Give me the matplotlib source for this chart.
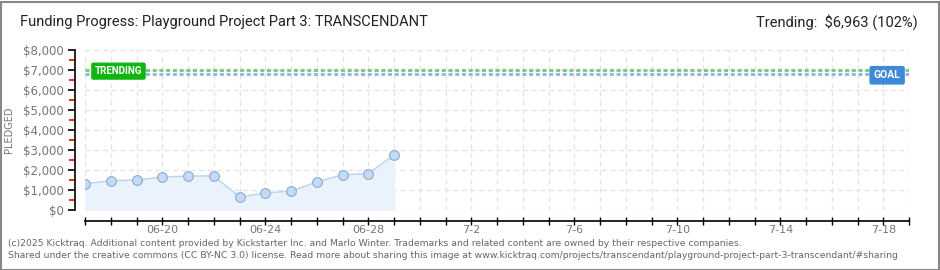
import matplotlib
matplotlib.use('Agg')
import matplotlib.pyplot as plt
import numpy as np
from matplotlib.patches import Rectangle

# data
dates = np.arange(np.datetime64('2025-06-17'), np.datetime64('2025-06-30'))
pledged = [1315, 1465, 1500, 1650, 1700, 1700, 650, 850, 950, 1400, 1765, 1815, 2750]
goal = 6826
trending = 6963
x_start = np.datetime64('2025-06-17')
x_end = np.datetime64('2025-07-19')
tick_dates = [np.datetime64('2025-06-20') + np.timedelta64(4 * i, 'D') for i in range(8)]
tick_labels = ['06-20', '06-24', '06-28', '7-2', '7-6', '7-10', '7-14', '7-18']
y_ticks = [0, 1000, 2000, 3000, 4000, 5000, 6000, 7000, 8000]

narrow = ['Roboto', 'DejaVu Sans']

W, H = 940, 270
fig = plt.figure(figsize=(W / 100, H / 100), dpi=100)
fig.patch.set_facecolor('white')
fig.add_artist(Rectangle((0.5 / W, 0.5 / H), 1 - 2 / W, 1 - 2 / H, transform=fig.transFigure,
                         fill=False, edgecolor='#888888', linewidth=1.5))

ax = fig.add_axes([85 / W, 60 / H, 824 / W, 160 / H])
xd = dates.astype('datetime64[D]').astype(float)
x0 = float(x_start.astype('datetime64[D]').astype(float))
x1 = float(x_end.astype('datetime64[D]').astype(float))
ax.set_xlim(x0, x1)
ax.set_ylim(0, 8000)

# grid
for d in np.arange(x0, x1 + 1):
    ax.axvline(d, color='#e3e3e3', lw=0.9, ls=(0, (4, 3)), zorder=0)
for v in y_ticks:
    ax.axhline(v, color='#e3e3e3', lw=0.9, ls=(0, (4, 3)), zorder=0)

# goal / trending lines
ax.axhline(trending + 40, color='#7ccc7c', lw=2.2, ls=(0, (1.3, 0.9)), zorder=2)
ax.axhline(goal - 40, color='#94b8e6', lw=2.2, ls=(0, (1.3, 0.9)), zorder=2)

# pledged series
ax.fill_between(xd, pledged, 0, color='#eaf2fc', zorder=1)
ax.plot(xd, pledged, color='#b8d4f2', lw=1, zorder=3)
ax.plot(xd, pledged, 'o', ms=7, mfc='#c2dbf6', mec='#8fa9c8', mew=0.8, zorder=4)

# labels on the lines
ax.text(x0 + 1.3, trending - 20, 'TRENDING', color='white', fontsize=7, family=narrow,
        fontweight='bold', ha='center', va='center', zorder=6,
        bbox=dict(boxstyle='round,pad=0.3,rounding_size=0.15', fc='#11b511', ec='#11b511'))
ax.text(x1 - 0.85, goal - 90, 'GOAL', color='white', fontsize=7.5, family=narrow,
        fontweight='bold', ha='center', va='center', zorder=6,
        bbox=dict(boxstyle='round,pad=0.35,rounding_size=0.15', fc='#3f8ad6', ec='#3f8ad6'))

# axes styling
for s in ['top', 'right']:
    ax.spines[s].set_visible(False)
ax.spines['left'].set_position(('outward', 7))
ax.spines['bottom'].set_position(('outward', 8))
ax.spines['left'].set_linewidth(1.2)
ax.spines['bottom'].set_linewidth(1.2)
ax.set_yticks(y_ticks)
ax.set_yticklabels(['$0' if v == 0 else '${:,}'.format(v) for v in y_ticks])
ax.set_yticks(np.arange(500, 8000, 1000), minor=True)
ax.tick_params(axis='y', which='major', length=5, width=1.2, colors='black', labelcolor='#777777',
               labelsize=8.5, pad=3)
ax.tick_params(axis='y', which='minor', length=4, width=1.2, color='#dd0000')
ax.set_xticks(np.arange(x0, x1 + 1), minor=True)
ax.set_xticks([float(t.astype(float)) for t in tick_dates])
ax.set_xticklabels(tick_labels)
ax.tick_params(axis='x', which='both', direction='inout', length=6, width=1, colors='black')
ax.tick_params(axis='x', which='major', labelcolor='#777777', labelsize=8, pad=0)
ax.set_ylabel('PLEDGED', color='#777777', fontsize=7)
ax.yaxis.set_label_coords(-71 / 824, 0.5)

# header / footer
fig.text(20 / W, 1 - 22 / H, 'Funding Progress: Playground Project Part 3: TRANSCENDANT',
         fontsize=10.5, color='#222222', va='center', ha='left', family=narrow)
fig.text(918 / W, 1 - 22 / H, 'Trending:  $6,963 (102%)', fontsize=10.5, color='#222222',
         va='center', ha='right', family=narrow)
fig.text(8 / W, 1 - 243 / H,
         '(c)2025 Kicktraq. Additional content provided by Kickstarter Inc. and Marlo Winter. '
         'Trademarks and related content are owned by their respective companies.',
         fontsize=6.7, color='#666666', va='center', ha='left')
fig.text(8 / W, 1 - 256 / H,
         'Shared under the creative commons (CC BY-NC 3.0) license. Read more about sharing this image at '
         'www.kicktraq.com/projects/transcendant/playground-project-part-3-transcendant/#sharing',
         fontsize=6.7, color='#666666', va='center', ha='left')

fig.savefig('out.png', dpi=100)
